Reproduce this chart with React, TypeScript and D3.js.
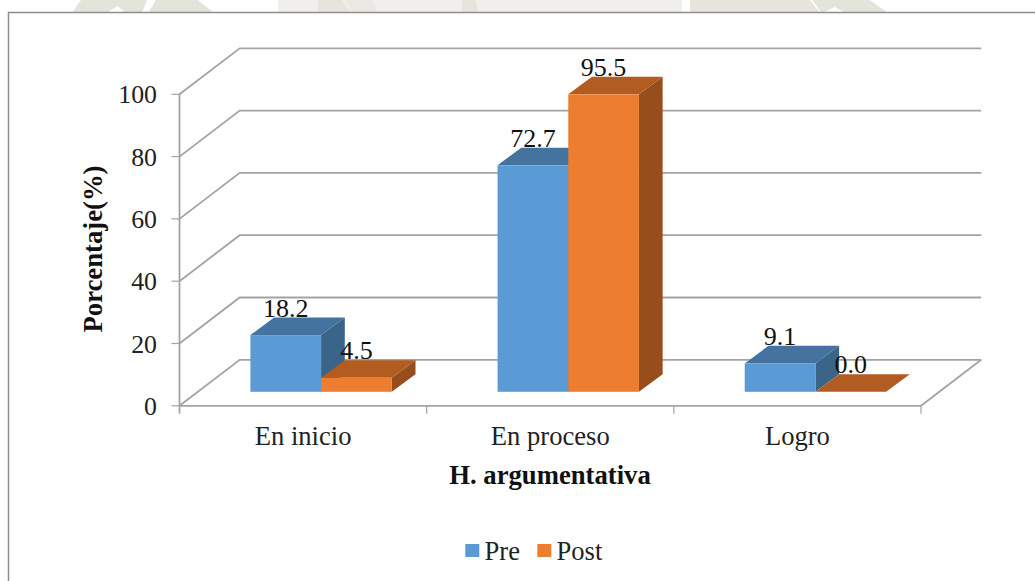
import React from "react";
import * as d3 from "d3";

const categories = ["En inicio", "En proceso", "Logro"];
const seriesNames = ["Pre", "Post"];
const preValues = [18.2, 72.7, 9.1];
const postValues = [4.5, 95.5, 0.0];
const yTicks = [0, 20, 40, 60, 80, 100];

const W = 1035;
const H = 581;
const FONT = "'Liberation Serif', 'Times New Roman', serif";

// Plot box on the front plane, plus the oblique shift of the back wall and of the bars' own depth
const left = 179.5;
const right = 921;
const wallDx = 60.2;
const wallDy = -46;
const barInsetX = 18;
const barInsetY = -14;
const barDepthX = 23.7;
const barDepthY = -17.6;
const barWidth = 70.7;

const y = d3.scaleLinear().domain([0, 100]).range([405.8, 94.3]);
const x = d3.scaleBand<string>().domain(categories).range([left, right]);
const barX = d3.scaleBand<string>().domain(seriesNames).range([-barWidth, barWidth]);

const palette: Record<string, { front: string; top: string; side: string }> = {
  Pre: { front: "#5b9bd5", top: "#44739f", side: "#3a6488" },
  Post: { front: "#ed7d31", top: "#b35c22", side: "#984e1c" },
};

// Muted letterpress shapes showing above the chart frame
const backdrop: { points: string; fill: string }[] = [
  { points: "81,0 147,0 142,13 125,13 118,6 106,13 72,13", fill: "#e3e4da" },
  { points: "156,0 198,0 214,13 148,13", fill: "#e3e4da" },
  { points: "278,0 682,0 682,13 278,13", fill: "#f0efeb" },
  { points: "318,0 342,0 351,13 318,13", fill: "#e6e4dd" },
  { points: "345,0 372,0 378,13 353,13", fill: "#eae8e2" },
  { points: "462,0 476,0 478,13 462,13", fill: "#e6e4dd" },
  { points: "690,0 810,0 820,13 690,13", fill: "#e6e4dc" },
  { points: "812,0 870,0 888,13 845,13 835,7 822,13", fill: "#e3e4da" },
];

function Bar3D({ series, category, value }: { series: string; category: string; value: number }) {
  const c = palette[series];
  const x0 = (x(category) as number) + x.bandwidth() / 2 + barInsetX + (barX(series) as number);
  const x1 = x0 + barWidth;
  const base = y(0) + barInsetY;
  const top = y(value) + barInsetY;
  const dx = barDepthX;
  const dy = barDepthY;
  return (
    <g>
      <polygon
        points={`${x1},${base} ${x1 + dx},${base + dy} ${x1 + dx},${top + dy} ${x1},${top}`}
        fill={c.side}
      />
      <polygon
        points={`${x0},${top} ${x0 + dx},${top + dy} ${x1 + dx},${top + dy} ${x1},${top}`}
        fill={c.top}
      />
      <rect x={x0} y={top} width={barWidth} height={base - top} fill={c.front} />
    </g>
  );
}

export default function App() {
  const series = [
    { name: "Pre", values: preValues },
    { name: "Post", values: postValues },
  ];
  const fmt = d3.format(".1f");
  const gridColor = "#a3a3a3";
  const xEdges = [...categories.map((c) => x(c) as number), right];
  const legendItems = [
    { name: "Pre", sx: 465.3, tx: 484.5 },
    { name: "Post", sx: 537.3, tx: 556.5 },
  ];

  return (
    <svg
      width={W}
      height={H}
      viewBox={`0 0 ${W} ${H}`}
      style={{ position: "absolute", left: 0, top: 0, background: "#fff" }}
      fontFamily={FONT}
    >
      {backdrop.map((b, i) => (
        <polygon key={i} points={b.points} fill={b.fill} />
      ))}

      {/* chart frame, open towards the right and bottom edges */}
      <path d={`M8.5,${H} V12.5 H${W}`} fill="#fff" stroke="#8d8d8d" strokeWidth={1.5} />

      {/* left wall, back wall and floor rules */}
      {yTicks.map((t) => (
        <g key={t} stroke={gridColor} strokeWidth={1.8} fill="none">
          <path
            d={`M${left},${y(t)} L${left + wallDx},${y(t) + wallDy} H${right + wallDx}`}
          />
          <line x1={left - 8} x2={left} y1={y(t)} y2={y(t)} strokeWidth={1.2} />
        </g>
      ))}
      <g stroke={gridColor} fill="none">
        <line x1={left} x2={left} y1={y(100)} y2={y(0) + 8} strokeWidth={1.8} />
        <line x1={left} x2={right} y1={y(0)} y2={y(0)} strokeWidth={1.8} />
        <line x1={right} x2={right + wallDx} y1={y(0)} y2={y(0) + wallDy} strokeWidth={1.8} />
        {xEdges.slice(1).map((e) => (
          <line key={e} x1={e} x2={e} y1={y(0)} y2={y(0) + 8} strokeWidth={1.2} />
        ))}
      </g>

      {/* bars */}
      {categories.map((c, i) => (
        <g key={c}>
          {series.map((s) => (
            <Bar3D key={s.name} series={s.name} category={c} value={s.values[i]} />
          ))}
        </g>
      ))}

      {/* value labels */}
      {categories.map((c, i) =>
        series.map((s) => (
          <text
            key={c + s.name}
            x={(x(c) as number) + x.bandwidth() / 2 + barInsetX + (barX(s.name) as number) + barWidth / 2}
            y={y(s.values[i]) + barInsetY - 18.6}
            textAnchor="middle"
            fontSize={26}
            fill="#111"
          >
            {fmt(s.values[i])}
          </text>
        ))
      )}

      {/* value axis */}
      {yTicks.map((t) => (
        <text key={t} x={157} y={y(t) + 9} textAnchor="end" fontSize={25.8} fill="#222">
          {t}
        </text>
      ))}
      <text
        transform={`translate(102,249) rotate(-90)`}
        textAnchor="middle"
        fontSize={26.7}
        fontWeight="bold"
        fill="#111"
      >
        Porcentaje(%)
      </text>

      {/* category axis */}
      {categories.map((c) => (
        <text
          key={c}
          x={(x(c) as number) + x.bandwidth() / 2}
          y={445}
          textAnchor="middle"
          fontSize={26.6}
          fill="#222"
        >
          {c}
        </text>
      ))}
      <text x={550} y={484} textAnchor="middle" fontSize={26.7} fontWeight="bold" fill="#111">
        H. argumentativa
      </text>

      {/* legend */}
      {legendItems.map((l) => (
        <g key={l.name}>
          <rect x={l.sx} y={544} width={14} height={13} fill={palette[l.name].front} />
          <text x={l.tx} y={559.5} fontSize={26.6} fill="#222">
            {l.name}
          </text>
        </g>
      ))}
    </svg>
  );
}
